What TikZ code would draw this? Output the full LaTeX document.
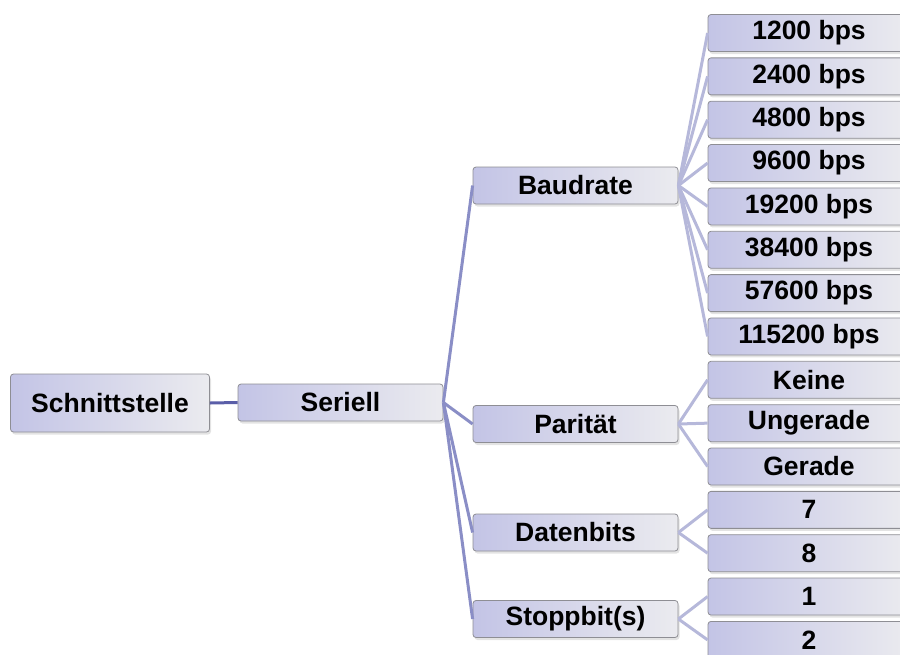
\documentclass[tikz,border=0pt]{standalone}
\usepackage{fontspec}
\setmainfont{Liberation Sans}
\usetikzlibrary{shadows}
\definecolor{boxL}{HTML}{C3C4E6}
\definecolor{boxR}{HTML}{EBEBEF}
\definecolor{boxB}{HTML}{8E8E94}
\definecolor{lineA}{HTML}{5A5EA8}
\definecolor{lineB}{HTML}{8A8EC6}
\definecolor{lineC}{HTML}{B6B8DA}
\tikzset{
  boxbase/.style={draw=boxB, line width=0.8pt, rounded corners=3pt,
    left color=boxL, right color=boxR,
    drop shadow={shadow xshift=1.5pt, shadow yshift=-2.5pt, opacity=0.22},
    font=\fontsize{26.5}{31}\selectfont\bfseries, text=black, inner sep=0pt},
  rootbox/.style={boxbase, minimum width=199pt, minimum height=58pt},
  lvlone/.style={boxbase, minimum width=205pt, minimum height=37pt},
  lvltwo/.style={boxbase, minimum width=205pt, minimum height=37pt},
  leafbox/.style={boxbase, minimum width=202pt, minimum height=37pt},
  linka/.style={draw=lineA, line width=3pt},
  linkb/.style={draw=lineB, line width=3pt},
  linkc/.style={draw=lineC, line width=3pt},
}
\begin{document}
\begin{tikzpicture}[x=1pt,y=-1pt]
\useasboundingbox (0,0) rectangle (900,654);
\clip (0,0) rectangle (900,654);
% nodes
\node[rootbox] (root) at (110,403) {Schnittstelle};
\node[lvlone] (ser) at (340.5,402.5) {Seriell};
\node[lvltwo] (baud) at (575.5,185.5) {Baudrate};
\node[lvltwo] (par) at (575.5,424) {Parität};
\node[lvltwo] (dat) at (575.5,532.5) {Datenbits};
\node[lvltwo] (stop) at (575.5,619) {Stoppbit(s)};
\foreach \i/\t in {0/1200 bps,1/2400 bps,2/4800 bps,3/9600 bps,4/19200 bps,
  5/38400 bps,6/57600 bps,7/115200 bps,8/Keine,9/Ungerade,10/Gerade,
  11/7,12/8,13/1,14/2}{
  \node[leafbox] (leaf\i) at (809,33+\i*43.35) {\t};
}
% connectors
\draw[linka] (root.east) -- (ser.west);
\foreach \c in {baud,par,dat,stop}{
  \draw[linkb] (ser.east) -- (\c.west);
}
\foreach \i in {0,...,7}{\draw[linkc] (baud.east) -- (leaf\i.west);}
\foreach \i in {8,9,10}{\draw[linkc] (par.east) -- (leaf\i.west);}
\foreach \i in {11,12}{\draw[linkc] (dat.east) -- (leaf\i.west);}
\foreach \i in {13,14}{\draw[linkc] (stop.east) -- (leaf\i.west);}
\end{tikzpicture}
\end{document}
